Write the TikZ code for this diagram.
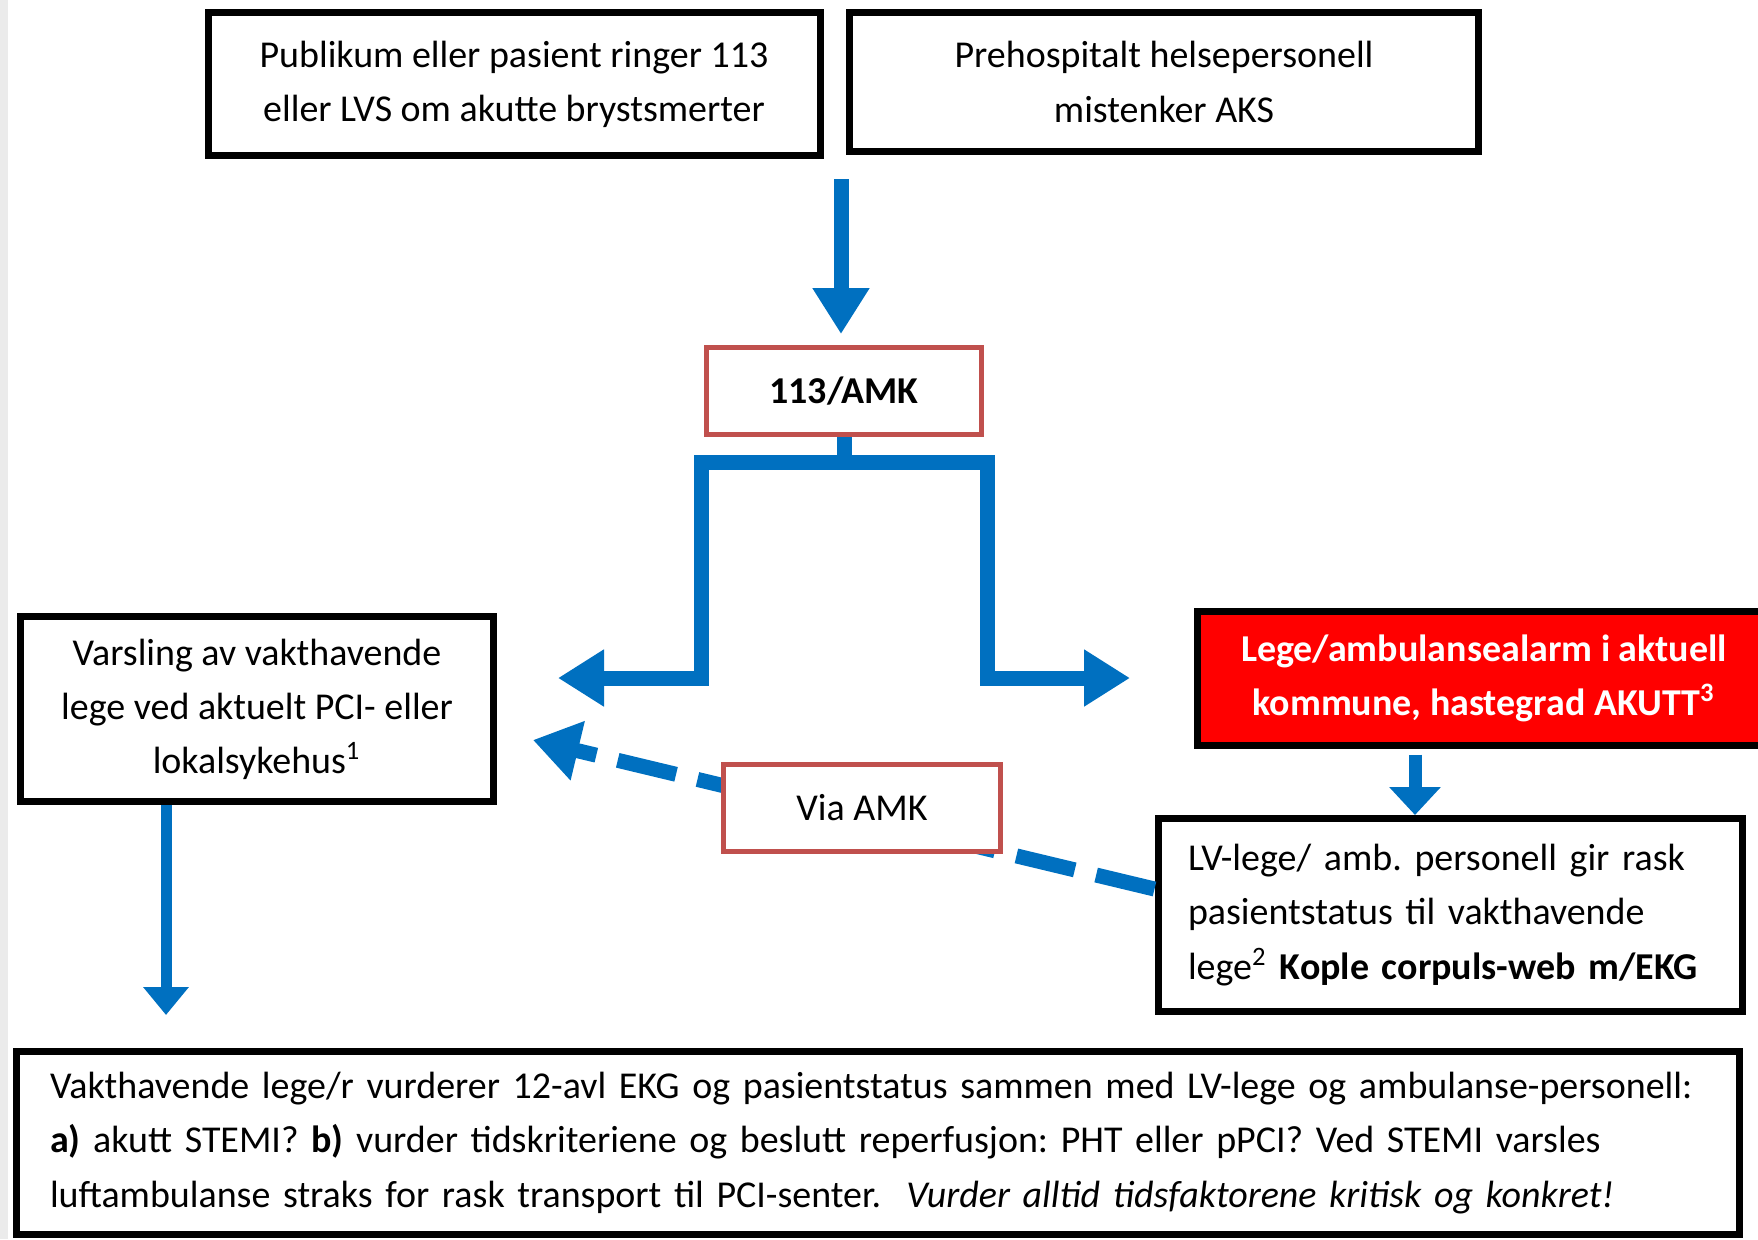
\documentclass[tikz,border=0pt]{standalone}
\usepackage{fontspec}
\setmainfont{Carlito}
\usetikzlibrary{arrows.meta}

\definecolor{flowblue}{RGB}{0,112,192}
\definecolor{amkred}{RGB}{192,80,77}
\definecolor{alarmred}{RGB}{255,0,0}

\tikzset{
  box/.style={draw=black, line width=0.7mm, fill=white, align=center, inner sep=0pt,
    font=\fontsize{10.8}{15.4}\selectfont\frenchspacing},
  redbox/.style={box, draw=amkred, line width=0.5mm},
  flow/.style={draw=flowblue, line width=1.5mm, line join=miter,
    -{Triangle[length=4.6mm,width=5.4mm]}},
}

\begin{document}
\begin{tikzpicture}[x=0.1mm, y=-0.1mm]
   \useasboundingbox (0,0) rectangle (1758,1239);
   \fill[black!8] (0,0) rectangle (8,1239);

   % boxes
   \node[box, minimum width=61.2mm, minimum height=14.3mm] (pub) at (514,84)
      {Publikum eller pasient ringer 113\\ eller LVS om akutte brystsmerter};
   \node[box, minimum width=62.9mm, minimum height=13.9mm] (pre) at (1164,82)
      {Prehospitalt helsepersonell\\ mistenker AKS};
   \node[redbox, minimum width=27.5mm, minimum height=8.7mm] (amk) at (844,391)
      {\bfseries 113/AMK};
   \node[box, minimum width=47.3mm, minimum height=18.5mm] (varsl) at (257,709)
      {Varsling av vakthavende\\ lege ved aktuelt PCI- eller\\ lokalsykehus\textsuperscript{1}};
   \node[box, fill=alarmred, text=white, minimum width=57.4mm, minimum height=13.4mm] (alarm) at (1484,678)
      {\bfseries Lege/ambulansealarm i aktuell\\ \bfseries kommune, hastegrad AKUTT\textsuperscript{3}};
   \node[box, align=left, text width=52.4mm, minimum width=58.4mm, minimum height=19.3mm] (lv) at (1450,915)
      {LV-lege/ amb. personell gir rask\\ pasientstatus til vakthavende\\
       lege\textsuperscript{2} \textbf{Kople corpuls-web m/EKG}};
   \node[box, align=left, text width=165.6mm, minimum width=172.4mm, minimum height=18.3mm] (vurd) at (878,1143)
      {Vakthavende lege/r vurderer 12-avl EKG og pasientstatus sammen med LV-lege og ambulanse-personell:\\
       \textbf{a)} akutt STEMI? \textbf{b)} vurder tidskriteriene og beslutt reperfusjon: PHT eller pPCI? Ved STEMI varsles\\
       luftambulanse straks for rask transport til PCI-senter.\ \ \textit{Vurder alltid tidsfaktorene kritisk og konkret!}};

   % arrows
   \coordinate (drop) at (841,179);
   \coordinate (toL) at (558,678);
   \coordinate (toR) at (1130,678);
   \coordinate (down) at (166,1015);
   \coordinate (mid) at (1415,0);
   \coordinate (back) at (533,740);

   \draw[flow] (drop) -- ([yshift=1.1mm]drop |- amk.north);
   \draw[flow] (amk.south) |- (701,462) |- (toL);
   \draw[flow] (amk.south) |- (987,462) |- (toR);
   \draw[flow, line width=1.1mm, -{Triangle[length=2.8mm,width=4.4mm]}] (down |- varsl.south) -- (down);
   \draw[flow, line width=1.3mm, -{Triangle[length=2.8mm,width=5mm]}] ([yshift=-0.6mm]mid |- alarm.south) -- (mid |- lv.north);
   \draw[flow, line width=1.5mm, dash pattern=on 6mm off 2.2mm, -{Triangle[length=4.6mm,width=5.8mm]}]
      ([yshift=2.6mm]lv.west) -- (back);

   \node[redbox, minimum width=27.7mm, minimum height=8.7mm] (via) at (862,808) {Via AMK};
\end{tikzpicture}
\end{document}
